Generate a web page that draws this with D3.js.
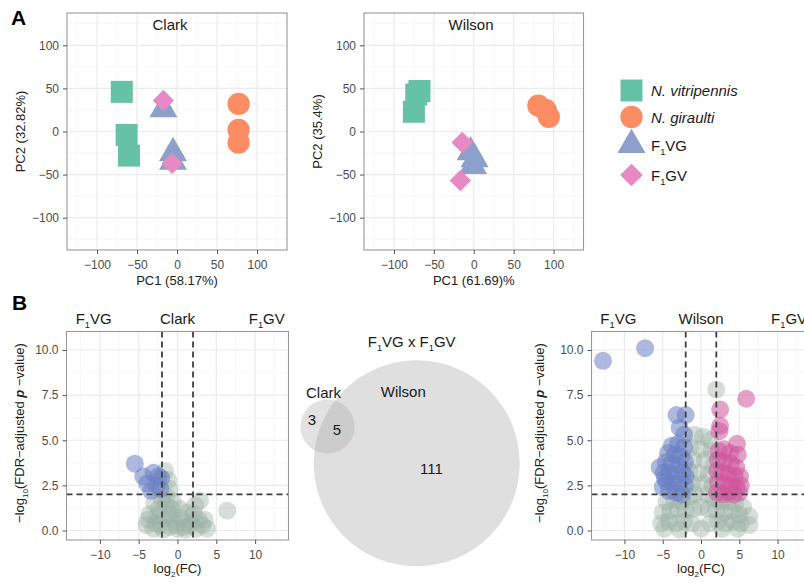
<!DOCTYPE html>
<html>
<head>
<meta charset="utf-8">
<script src="https://cdn.jsdelivr.net/npm/d3@7"></script>
<style>
  body { margin: 0; background: #fff; }
</style>
</head>
<body>
<script>
// ---- data ----
var groupKeys = ["NV", "NG", "VG", "GV"];
var groupNames = ["N. vitripennis", "N. giraulti", "F1VG", "F1GV"];
var groupColors = ["#66c2a5", "#fc8d62", "#8da0cb", "#e78ac3"];

var clarkPC1 = [-69, -63, -60, 77, 77, 77, -17, -5, -5, -17, -6];
var clarkPC2 = [46, -4, -28, 32, 2, -13, 26, -25, -35, 36, -37];
var clarkGroup = ["NV", "NV", "NV", "NG", "NG", "NG", "VG", "VG", "VG", "GV", "GV"];

var wilsonPC1 = [-68, -72, -75, 81, 90, 94, -4, 1, -1, -14.5, -16.7];
var wilsonPC2 = [47, 43, 23, 30, 25, 17, -24, -32, -40, -12.7, -57];
var wilsonGroup = ["NV", "NV", "NV", "NG", "NG", "NG", "VG", "VG", "VG", "GV", "GV"];

var pcaTicks = [-100, -50, 0, 50, 100];
var pcaMinor = [-125, -75, -25, 25, 75, 125];

// volcano: log2 fold change and -log10 FDR p, by class
var clarkNsFC = [-1.6, -1.2, -1.0, -1.4, -2.0, -3.0, -1.5, -0.8, -3.6, -2.6, -1.6, -0.5, 0.5, 1.3, 2.1, 2.9, 6.4, -4.0, -3.1, -2.2,
  -1.0, 0.0, 0.8, 1.6, 2.4, 3.2, 3.8, -3.8, 2.7, -0.2, 1.0, -1.8, -2.8, 0.3, -0.6, -2.4, 2.3, 3.5, -0.9, 1.8];
var clarkNsP = [3.3, 2.8, 2.3, 1.9, 1.7, 1.5, 1.4, 1.2, 0.9, 0.8, 0.7, 0.6, 0.7, 1.0, 0.9, 1.65, 1.1, 0.3, 0.1, 0.3,
  0.2, 0.1, 0.2, 0.3, 0.1, 0.3, 0.1, 0.6, 0.6, 0.3, 0.05, 0.05, 0.4, 1.2, 1.6, 1.2, 1.4, 0.6, 0.9, 0.5];
var clarkVgFC = [-5.5, -4.4, -3.1, -2.45, -3.9, -2.7, -2.2, -3.4, -2.1];
var clarkVgP = [3.7, 3.0, 3.2, 3.0, 2.6, 2.5, 2.3, 2.2, 2.9];
var clarkGvFC = [];
var clarkGvP = [];

var wilsonNsFC = [2.0, -0.8, 0.3, 1.2, -1.4, 0.0, 1.4, -1.0, 0.5, 1.6, -1.5, -0.3, 1.0, -1.2, 0.2, 1.5, -0.8, 0.8, -1.5, 1.6,
  -4.5, -3.5, -2.5, 2.5, 3.5, 4.5, 5.5, -5.0, -4.0, -3.0, -2.0, -1.0, 0.0, 1.0, 2.0, 3.0, 4.0, 5.0, 6.3, -5.2,
  -4.2, -3.2, -2.2, -1.2, 0.0, 1.2, 2.2, 3.2, 4.2, 5.2, 6.3, -4.8, -2.8, 2.8, 4.8];
var wilsonNsP = [7.8, 5.3, 5.2, 5.0, 4.6, 4.5, 4.4, 3.9, 3.9, 3.6, 3.3, 3.2, 3.1, 2.6, 2.6, 2.5, 2.0, 2.0, 1.9, 1.8,
  1.6, 1.7, 1.6, 1.6, 1.6, 1.5, 1.3, 1.0, 1.1, 1.2, 1.1, 1.2, 1.3, 1.2, 1.1, 1.0, 1.1, 0.9, 0.8, 0.4,
  0.5, 0.4, 0.5, 0.4, 0.1, 0.4, 0.5, 0.4, 0.5, 0.4, 0.3, 0.1, 0.05, 0.1, 0.1];
var wilsonVgFC = [-12.8, -7.3, -3.2, -2.0, -2.8, -2.2, -3.8, -3.0, -2.2, -4.3, -3.4, -2.6, -4.6, -3.8, -2.9, -2.1, -5.4, -4.9, -4.1, -3.3,
  -2.4, -4.5, -3.7, -2.8, -2.1, -5.0, -4.2, -3.3, -2.5, -4.7, -2.0];
var wilsonVgP = [9.4, 10.1, 6.4, 6.4, 5.7, 5.3, 4.7, 4.8, 4.6, 4.3, 4.2, 4.1, 3.8, 3.7, 3.6, 3.8, 3.5, 3.2, 3.2, 3.1,
  3.2, 2.7, 2.6, 2.6, 2.5, 2.4, 2.2, 2.1, 2.0, 2.9, 3.0];
var wilsonGvFC = [5.9, 2.5, 2.5, 2.4, 4.7, 2.3, 3.0, 3.8, 4.8, 2.2, 3.0, 3.9, 4.6, 2.1, 2.8, 3.6, 4.4, 5.1, 2.2, 3.0,
  3.8, 4.6, 5.2, 2.1, 2.9, 3.6, 4.3, 5.0];
var wilsonGvP = [7.3, 6.7, 5.8, 5.5, 4.8, 4.4, 4.5, 4.3, 4.2, 3.9, 3.8, 3.7, 3.5, 3.3, 3.2, 3.1, 3.0, 3.0, 2.7, 2.6,
  2.5, 2.4, 2.5, 2.1, 2.0, 2.1, 2.0, 2.1];

var volXTicks = [-10, -5, 0, 5, 10];
var volXMinor = [-12.5, -7.5, -2.5, 2.5, 7.5, 12.5];
var volYTicks = [0, 2.5, 5, 7.5, 10];
var volYMinor = [1.25, 3.75, 6.25, 8.75];
var fcCut = [-2, 2];
var pCut = 2;

// venn: Clark only, shared, Wilson only
var vennSets = ["Clark", "Wilson"];
var vennCounts = [3, 5, 111];

// ---- setup ----
var FONT = "'Liberation Sans', Arial, Helvetica, sans-serif";
var svg = d3.select("body").append("svg")
  .attr("width", 804)
  .attr("height", 583)
  .style("font-family", FONT);
svg.append("rect").attr("width", 804).attr("height", 583).attr("fill", "#fff");

// text with subscripts: parts = [text, isSub, isBoldItalic]
function rich(sel, parts) {
  var shift = 0;
  parts.forEach(function(p) {
    var ts = sel.append("tspan").text(p[0]);
    var want = p[1] ? 4 : 0;
    if (want != shift) ts.attr("dy", want - shift);
    shift = want;
    if (p[1]) ts.attr("font-size", "0.62em");
    if (p[2]) ts.attr("font-style", "italic").attr("font-weight", "bold");
  });
  return sel;
}

function labelParts(name) {
  if (name.indexOf("F1") == 0) return [["F"], ["1", true], [name.slice(2)]];
  return [[name]];
}

function grid(g, x, y, xMajor, xMinor, yMajor, yMinor) {
  var xr = x.range(), yr = y.range();
  g.append("rect").attr("x", xr[0]).attr("y", yr[1])
    .attr("width", xr[1] - xr[0]).attr("height", yr[0] - yr[1]).attr("fill", "#fff");
  g.selectAll(".vmin").data(xMinor).enter().append("line")
    .attr("x1", x).attr("x2", x).attr("y1", yr[0]).attr("y2", yr[1])
    .attr("stroke", "#f3f3f3").attr("stroke-width", 0.7);
  g.selectAll(".hmin").data(yMinor).enter().append("line")
    .attr("y1", y).attr("y2", y).attr("x1", xr[0]).attr("x2", xr[1])
    .attr("stroke", "#f3f3f3").attr("stroke-width", 0.7);
  g.selectAll(".vmaj").data(xMajor).enter().append("line")
    .attr("x1", x).attr("x2", x).attr("y1", yr[0]).attr("y2", yr[1])
    .attr("stroke", "#ebebeb").attr("stroke-width", 1.2);
  g.selectAll(".hmaj").data(yMajor).enter().append("line")
    .attr("y1", y).attr("y2", y).attr("x1", xr[0]).attr("x2", xr[1])
    .attr("stroke", "#ebebeb").attr("stroke-width", 1.2);
}

function frameAndAxes(g, x, y, xTicks, yTicks, xFmt, yFmt) {
  var xr = x.range(), yr = y.range();
  g.append("rect").attr("x", xr[0]).attr("y", yr[1])
    .attr("width", xr[1] - xr[0]).attr("height", yr[0] - yr[1])
    .attr("fill", "none").attr("stroke", "#9a9a9a").attr("stroke-width", 1.1);

  var ax = g.append("g").attr("transform", "translate(0," + yr[0] + ")")
    .call(d3.axisBottom(x).tickValues(xTicks).tickSize(4).tickPadding(6).tickFormat(xFmt));
  var ay = g.append("g").attr("transform", "translate(" + xr[0] + ",0)")
    .call(d3.axisLeft(y).tickValues(yTicks).tickSize(4).tickPadding(4).tickFormat(yFmt));
  [ax, ay].forEach(function(a) {
    a.attr("font-family", FONT).attr("font-size", 12);
    a.select(".domain").remove();
    a.selectAll(".tick line").attr("stroke", "#555");
    a.selectAll(".tick text").attr("fill", "#4d4d4d");
  });
}

function clipFor(g, id, x, y) {
  var xr = x.range(), yr = y.range();
  svg.append("clipPath").attr("id", id).append("rect")
    .attr("x", xr[0]).attr("y", yr[1]).attr("width", xr[1] - xr[0]).attr("height", yr[0] - yr[1]);
  return g.append("g").attr("clip-path", "url(#" + id + ")");
}

var symbolTypes = {NV: d3.symbolSquare, NG: d3.symbolCircle, VG: d3.symbolTriangle, GV: d3.symbolSquare};
var pcaSizes = {NV: 484, NG: 390, VG: 340, GV: 230};
var legendSizes = {NV: 484, NG: 390, VG: 340, GV: 256};

function shape(key, sizes) {
  return d3.symbol().type(symbolTypes[key]).size(sizes[key])();
}
function colorOf(key) { return groupColors[groupKeys.indexOf(key)]; }

// ---- PCA panels ----
function pcaPanel(L, title, pc1, pc2, grp, xlab, ylab) {
  var g = svg.append("g");
  var x = d3.scaleLinear().domain([-137.5, 137.5]).range([L.x0, L.x1]);
  var y = d3.scaleLinear().domain([-137.5, 137.5]).range([L.y1, L.y0]);
  grid(g, x, y, pcaTicks, pcaMinor, pcaTicks, pcaMinor);

  var pts = pc1.map(function(d, i) { return {x: d, y: pc2[i], g: grp[i]}; });
  var order = {NV: 0, NG: 1, VG: 2, GV: 3};
  pts.sort(function(a, b) { return order[a.g] - order[b.g]; });
  var pg = clipFor(g, L.id, x, y);
  pg.selectAll("path").data(pts).enter().append("path")
    .attr("d", function(d) { return shape(d.g, pcaSizes); })
    .attr("transform", function(d) {
      return "translate(" + x(d.x) + "," + y(d.y) + ")" + (d.g == "GV" ? " rotate(45)" : "");
    })
    .attr("fill", function(d) { return colorOf(d.g); });

  frameAndAxes(g, x, y, pcaTicks, pcaTicks, d3.format("d"), d3.format("d"));

  g.append("text").attr("x", L.titleX).attr("y", L.y0 + 17)
    .attr("text-anchor", "middle").attr("font-size", 15).attr("fill", "#1a1a1a").text(title);
  g.append("text").attr("x", (L.x0 + L.x1) / 2).attr("y", L.y1 + 35)
    .attr("text-anchor", "middle").attr("font-size", 13).attr("fill", "#222").text(xlab);
  g.append("text")
    .attr("transform", "translate(" + (L.x0 - 42) + "," + ((L.y0 + L.y1) / 2) + ") rotate(-90)")
    .attr("text-anchor", "middle").attr("font-size", 13).attr("fill", "#222").text(ylab);
}

pcaPanel({id: "c1", x0: 67, x1: 287, y0: 13, y1: 250, titleX: 170},
  "Clark", clarkPC1, clarkPC2, clarkGroup, "PC1 (58.17%)", "PC2 (32.82%)");
pcaPanel({id: "c2", x0: 364, x1: 583.5, y0: 13, y1: 250, titleX: 471},
  "Wilson", wilsonPC1, wilsonPC2, wilsonGroup, "PC1 (61.69)%", "PC2 (35.4%)");

// legend
var legendY = [90.5, 117, 145, 175];
var lg = svg.append("g");
groupKeys.forEach(function(k, i) {
  lg.append("path").attr("d", shape(k, legendSizes))
    .attr("transform", "translate(631.5," + legendY[i] + ")" + (k == "GV" ? " rotate(45)" : ""))
    .attr("fill", groupColors[i]);
  var t = lg.append("text").attr("x", 651).attr("y", legendY[i] + 5.5)
    .attr("font-size", 15).attr("fill", "#1a1a1a");
  if (i < 2) t.attr("font-style", "italic").text(groupNames[i]);
  else rich(t, labelParts(groupNames[i]));
});

// ---- volcano panels ----
var classColors = {ns: "#9cb0a5", VG: "#6a80c2", GV: "#cf559c"};

function volcano(L, title, sets) {
  var g = svg.append("g");
  var x = d3.scaleLinear().domain([-14.3, 14.3]).range([L.x0, L.x1]);
  var y = d3.scaleLinear().domain([-0.525, 11.025]).range([L.y1, L.y0]);
  grid(g, x, y, volXTicks, volXMinor, volYTicks, volYMinor);

  var pg = clipFor(g, L.id, x, y);
  sets.forEach(function(s) {
    var pts = s.fc.map(function(d, i) { return [d, s.p[i]]; });
    pg.selectAll(".p" + s.cls).data(pts).enter().append("circle")
      .attr("cx", function(d) { return x(d[0]); })
      .attr("cy", function(d) { return y(d[1]); })
      .attr("r", 9)
      .attr("fill", classColors[s.cls])
      .attr("fill-opacity", s.cls == "ns" ? 0.42 : 0.55);
  });

  pg.selectAll(".vcut").data(fcCut).enter().append("line")
    .attr("x1", x).attr("x2", x).attr("y1", L.y0).attr("y2", L.y1)
    .attr("stroke", "#3d3d3d").attr("stroke-width", 1.8).attr("stroke-dasharray", "6,4");
  pg.append("line").attr("x1", L.x0).attr("x2", L.x1).attr("y1", y(pCut)).attr("y2", y(pCut))
    .attr("stroke", "#3d3d3d").attr("stroke-width", 1.8).attr("stroke-dasharray", "6,4");

  frameAndAxes(g, x, y, volXTicks, volYTicks, d3.format("d"), d3.format(".1f"));

  var top = L.y0 - 8;
  rich(g.append("text").attr("x", x(-10.8)).attr("y", top).attr("text-anchor", "middle")
    .attr("font-size", 15).attr("fill", "#1a1a1a"), labelParts(groupNames[2]));
  g.append("text").attr("x", x(0)).attr("y", top).attr("text-anchor", "middle")
    .attr("font-size", 15).attr("fill", "#1a1a1a").text(title);
  rich(g.append("text").attr("x", x(11.5)).attr("y", top).attr("text-anchor", "middle")
    .attr("font-size", 15).attr("fill", "#1a1a1a"), labelParts(groupNames[3]));

  rich(g.append("text").attr("x", x(0)).attr("y", L.y1 + 33).attr("text-anchor", "middle")
    .attr("font-size", 13).attr("fill", "#222"), [["log"], ["2", true], ["(FC)"]]);
  rich(g.append("text")
    .attr("transform", "translate(" + L.ylabX + ",433) rotate(-90)")
    .attr("text-anchor", "middle").attr("font-size", 13).attr("fill", "#222"),
    [["\u2212log"], ["10", true], ["(FDR\u2212adjusted  "], ["p", false, true], [" \u2212value)"]]);
}

volcano({id: "v1", x0: 66.5, x1: 288.5, y0: 331.5, y1: 540, ylabX: 24}, "Clark", [
  {cls: "ns", fc: clarkNsFC, p: clarkNsP},
  {cls: "VG", fc: clarkVgFC, p: clarkVgP},
  {cls: "GV", fc: clarkGvFC, p: clarkGvP}
]);
volcano({id: "v2", x0: 591.5, x1: 810.5, y0: 331.5, y1: 540, ylabX: 544}, "Wilson", [
  {cls: "ns", fc: wilsonNsFC, p: wilsonNsP},
  {cls: "VG", fc: wilsonVgFC, p: wilsonVgP},
  {cls: "GV", fc: wilsonGvFC, p: wilsonGvP}
]);

// ---- venn (area proportional) ----
function lensArea(r1, r2, d) {
  if (d >= r1 + r2) return 0;
  if (d <= Math.abs(r1 - r2)) return Math.PI * Math.pow(Math.min(r1, r2), 2);
  var a = r1 * r1 * Math.acos((d * d + r1 * r1 - r2 * r2) / (2 * d * r1));
  var b = r2 * r2 * Math.acos((d * d + r2 * r2 - r1 * r1) / (2 * d * r2));
  var c = 0.5 * Math.sqrt((-d + r1 + r2) * (d + r1 - r2) * (d - r1 + r2) * (d + r1 + r2));
  return a + b - c;
}

var clarkTotal = vennCounts[0] + vennCounts[1];
var wilsonTotal = vennCounts[1] + vennCounts[2];
var rScale = d3.scaleSqrt().domain([0, wilsonTotal]).range([0, 103]);
var R = rScale(wilsonTotal), r = rScale(clarkTotal);
var unitArea = Math.PI * R * R / wilsonTotal;
var lo = Math.abs(R - r), hi = R + r;
for (var it = 0; it < 60; it++) {
  var mid = (lo + hi) / 2;
  if (lensArea(R, r, mid) > vennCounts[1] * unitArea) lo = mid; else hi = mid;
}
var dist = (lo + hi) / 2;
var bigC = [416.7, 463.3];
var ang = Math.atan2(-37.5, -90.9);
var u = [Math.cos(ang), Math.sin(ang)];
var smallC = [bigC[0] + dist * u[0], bigC[1] + dist * u[1]];

var vg = svg.append("g");
vg.append("circle").attr("cx", bigC[0]).attr("cy", bigC[1]).attr("r", R)
  .attr("fill", "#a8a8a8").attr("fill-opacity", 0.37);
vg.append("circle").attr("cx", smallC[0]).attr("cy", smallC[1]).attr("r", r)
  .attr("fill", "#a8a8a8").attr("fill-opacity", 0.33);

function vText(px, py, txt, anchor) {
  return vg.append("text").attr("x", px).attr("y", py).attr("text-anchor", anchor || "middle")
    .attr("font-size", 15).attr("fill", "#1a1a1a").text(txt);
}
var lensMid = (dist - r + R) / 2;
var onlyMid = (R + dist + r) / 2;
vText(bigC[0] + onlyMid * u[0], bigC[1] + onlyMid * u[1] + 5, vennCounts[0]);
vText(bigC[0] + lensMid * u[0], bigC[1] + lensMid * u[1] + 5, vennCounts[1]);
vText(bigC[0] - 16 * u[0], bigC[1] - 16 * u[1] + 5, vennCounts[2]);
vText(smallC[0] - 4, smallC[1] - r - 1.5, vennSets[0]);
vText(bigC[0] - 13.4, bigC[1] - 66, vennSets[1]);
rich(vg.append("text").attr("x", bigC[0] - 5).attr("y", bigC[1] - R - 13)
  .attr("text-anchor", "middle").attr("font-size", 15).attr("fill", "#1a1a1a"),
  [["F"], ["1", true], ["VG x F"], ["1", true], ["GV"]]);

// panel letters
svg.append("text").attr("x", 11).attr("y", 25).attr("font-size", 21).attr("font-weight", "bold").text("A");
svg.append("text").attr("x", 12).attr("y", 310).attr("font-size", 21).attr("font-weight", "bold").text("B");
</script>
</body>
</html>
